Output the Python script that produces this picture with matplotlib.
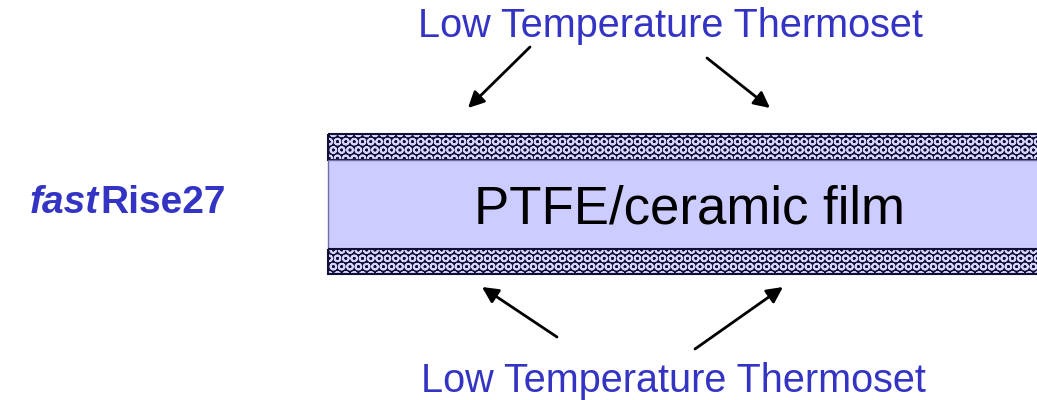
import matplotlib.pyplot as plt
from matplotlib.patches import Rectangle

# labels of the laminate stack diagram
product_italic = 'fast'
product_rest = 'Rise27'
core_label = 'PTFE/ceramic film'
bond_label = 'Low Temperature Thermoset'

# layer bands (top, bottom) in pixel rows
layer_names = ['top bond', 'core', 'bottom bond']
layer_tops = [134, 160, 249]
layer_bottoms = [160, 249, 274]

# arrows: (tail x, tail y, head x, head y)
arrows = [
    (530, 47, 468, 108),
    (707, 58, 770, 108),
    (557, 337, 482, 287),
    (695, 349, 783, 287),
]

BLUE = '#3434c4'
LAV = '#ccccff'
NAVY = '#101034'

plt.rcParams['font.family'] = ['Liberation Sans', 'DejaVu Sans']
plt.rcParams['hatch.linewidth'] = 1.3

fig = plt.figure(figsize=(10.37, 4.0), dpi=100)
ax = fig.add_axes([0, 0, 1, 1])
ax.set_xlim(0, 1037)
ax.set_ylim(400, 0)
ax.axis('off')

x0, x1 = 328, 1040
for name, top, bot in zip(layer_names, layer_tops, layer_bottoms):
    if name == 'core':
        ax.add_patch(Rectangle((x0, top), x1 - x0, bot - top,
                               facecolor=LAV, edgecolor='#7070a0', lw=1))
    else:
        ax.add_patch(Rectangle((x0, top), x1 - x0, bot - top,
                               facecolor=NAVY, edgecolor='none'))
        ax.add_patch(Rectangle((x0, top), x1 - x0, bot - top,
                               facecolor='none', edgecolor='#d4d4ff',
                               hatch='OO', lw=0))
        ax.add_patch(Rectangle((x0, top), x1 - x0, bot - top,
                               facecolor='none', edgecolor=NAVY, lw=1.5))

ax.text(689, 223, core_label, ha='center', va='baseline', fontsize=38, color='black')
ax.text(670, 37, bond_label, ha='center', va='baseline', fontsize=28.5, color=BLUE)
ax.text(673, 392, bond_label, ha='center', va='baseline', fontsize=28.5, color=BLUE)

ax.text(99, 213, product_italic, ha='right', va='baseline', fontsize=28,
        color=BLUE, fontweight='bold', fontstyle='italic')
ax.text(100, 213, product_rest, ha='left', va='baseline', fontsize=28,
        color=BLUE, fontweight='bold')

for xt, yt, xh, yh in arrows:
    ax.annotate('', xy=(xh, yh), xytext=(xt, yt),
                arrowprops=dict(arrowstyle='-|>', color='black', lw=2,
                                mutation_scale=24, shrinkA=0, shrinkB=0))

fig.savefig('out.png', dpi=100, facecolor='white')
